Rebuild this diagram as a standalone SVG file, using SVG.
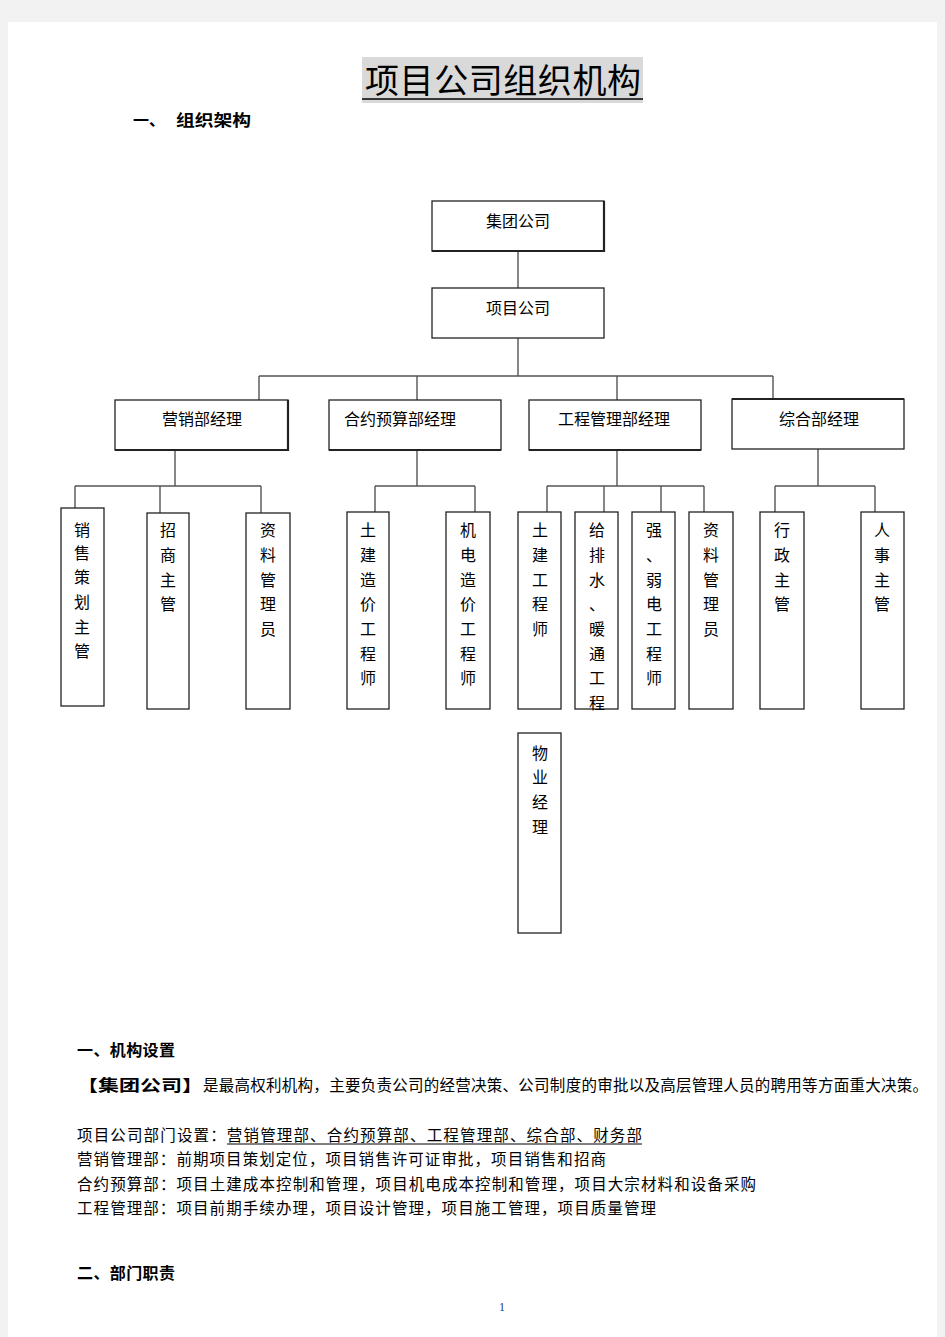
<svg xmlns="http://www.w3.org/2000/svg" width="945" height="1337" viewBox="0 0 945 1337">
<style>
.bx{fill:#fff;stroke:#222;stroke-width:1.3}
.sh{stroke:#222;stroke-width:2.2;fill:none}
.ln{stroke:#555;stroke-width:1.4;fill:none}
.t{font-family:"Noto Sans CJK SC","Noto Sans CJK TC",sans-serif;font-size:16px;fill:#000}
.v{font-family:"Noto Sans CJK SC",sans-serif;font-size:16px;fill:#000;text-anchor:middle}
.b{font-family:"Noto Sans CJK SC",sans-serif;font-size:16px;fill:#000;font-weight:bold}
.p{font-family:"Noto Sans CJK SC",sans-serif;font-size:15.5px;fill:#000}
</style>
<rect x="0" y="0" width="945" height="1337" fill="#f2f2f2"/>
<rect x="8" y="22" width="929" height="1315" fill="#fff"/>

<g id="title">
<rect x="362" y="57" width="281" height="46" fill="#d9d9d9"/>
<text x="365" y="93" font-family="Noto Sans CJK SC, sans-serif" font-size="34" textLength="276" fill="#000">项目公司组织机构</text>
<line x1="362" y1="99" x2="643" y2="99" stroke="#000" stroke-width="1.5"/>
<text x="133" y="126" class="b" font-size="18">一、</text>
<text x="176" y="126" class="b" font-size="18" textLength="75" lengthAdjust="spacingAndGlyphs">组织架构</text>
</g>

<g id="connectors">
<path class="ln" d="M518 251V288 M518 338V376 M259 376H773 M259 376V400 M417 376V400 M617 376V400 M773 376V400"/>
<path class="ln" d="M175 450V486 M75 486H261 M75 486V510 M160 486V513 M261 486V513"/>
<path class="ln" d="M417 450V486 M375 486H475 M375 486V512 M475 486V512"/>
<path class="ln" d="M617 450V486 M547 486H704 M547 486V512 M604 486V512 M661 486V512 M704 486V512"/>
<path class="ln" d="M818 449V486 M775 486H875 M775 486V512 M875 486V512"/>
</g>

<g id="n-jituan">
<rect class="bx" x="432" y="201" width="172" height="50"/>
<path class="sh" d="M604 201V251H432"/>
<text class="t" x="518" y="227" text-anchor="middle">集团公司</text>
</g>
<g id="n-xiangmu">
<rect class="bx" x="432" y="288" width="172" height="50"/>
<text class="t" x="518" y="314" text-anchor="middle">项目公司</text>
</g>

<g id="n-yingxiao">
<rect class="bx" x="115" y="400" width="173" height="50"/>
<path class="sh" d="M288 400V450H115"/>
<text class="t" x="202" y="425" text-anchor="middle">营销部经理</text>
</g>
<g id="n-heyue">
<rect class="bx" x="329" y="400" width="172" height="50"/>
<path class="sh" d="M329 450H501"/>
<text class="t" x="344" y="425">合约预算部经理</text>
</g>
<g id="n-gongcheng">
<rect class="bx" x="529" y="400" width="172" height="50"/>
<path class="sh" d="M529 450H701"/>
<text class="t" x="558" y="425">工程管理部经理</text>
</g>
<g id="n-zonghe">
<rect class="bx" x="732" y="399" width="172" height="50"/>
<path class="sh" d="M732 399H904"/>
<text class="t" x="779" y="425">综合部经理</text>
</g>

<g id="n-xiaoshou">
<rect class="bx" x="61" y="508" width="43" height="198"/>
<text class="v"><tspan x="82" y="536">销</tspan><tspan x="82" y="559">售</tspan><tspan x="82" y="583">策</tspan><tspan x="82" y="608">划</tspan><tspan x="82" y="633">主</tspan><tspan x="82" y="657">管</tspan></text>
</g>
<g id="n-zhaoshang">
<rect class="bx" x="147" y="513" width="42" height="196"/>
<text class="v"><tspan x="168" y="536">招</tspan><tspan x="168" y="561">商</tspan><tspan x="168" y="586">主</tspan><tspan x="168" y="610">管</tspan></text>
</g>
<g id="n-ziliao1">
<rect class="bx" x="246" y="513" width="44" height="196"/>
<text class="v"><tspan x="268" y="536">资</tspan><tspan x="268" y="561">料</tspan><tspan x="268" y="586">管</tspan><tspan x="268" y="610">理</tspan><tspan x="268" y="635">员</tspan></text>
</g>
<g id="n-tujianzaojia">
<rect class="bx" x="347" y="512" width="42" height="197"/>
<text class="v"><tspan x="368" y="536">土</tspan><tspan x="368" y="561">建</tspan><tspan x="368" y="586">造</tspan><tspan x="368" y="610">价</tspan><tspan x="368" y="635">工</tspan><tspan x="368" y="660">程</tspan><tspan x="368" y="684">师</tspan></text>
</g>
<g id="n-jidianzaojia">
<rect class="bx" x="446" y="512" width="44" height="197"/>
<text class="v"><tspan x="468" y="536">机</tspan><tspan x="468" y="561">电</tspan><tspan x="468" y="586">造</tspan><tspan x="468" y="610">价</tspan><tspan x="468" y="635">工</tspan><tspan x="468" y="660">程</tspan><tspan x="468" y="684">师</tspan></text>
</g>
<g id="n-tujian">
<rect class="bx" x="518" y="512" width="43" height="197"/>
<text class="v"><tspan x="540" y="536">土</tspan><tspan x="540" y="561">建</tspan><tspan x="540" y="586">工</tspan><tspan x="540" y="610">程</tspan><tspan x="540" y="635">师</tspan></text>
</g>
<g id="n-geipaishui">
<rect class="bx" x="575" y="512" width="43" height="197"/>
<text class="v"><tspan x="597" y="536">给</tspan><tspan x="597" y="561">排</tspan><tspan x="597" y="586">水</tspan><tspan x="597" y="610">、</tspan><tspan x="597" y="635">暖</tspan><tspan x="597" y="660">通</tspan><tspan x="597" y="684">工</tspan><tspan x="597" y="709">程</tspan></text>
</g>
<g id="n-qiangruodian">
<rect class="bx" x="632" y="512" width="43" height="197"/>
<text class="v"><tspan x="654" y="536">强</tspan><tspan x="654" y="561">、</tspan><tspan x="654" y="586">弱</tspan><tspan x="654" y="610">电</tspan><tspan x="654" y="635">工</tspan><tspan x="654" y="660">程</tspan><tspan x="654" y="684">师</tspan></text>
</g>
<g id="n-ziliao2">
<rect class="bx" x="689" y="512" width="44" height="197"/>
<text class="v"><tspan x="711" y="536">资</tspan><tspan x="711" y="561">料</tspan><tspan x="711" y="586">管</tspan><tspan x="711" y="610">理</tspan><tspan x="711" y="635">员</tspan></text>
</g>
<g id="n-xingzheng">
<rect class="bx" x="760" y="512" width="44" height="197"/>
<text class="v"><tspan x="782" y="536">行</tspan><tspan x="782" y="561">政</tspan><tspan x="782" y="586">主</tspan><tspan x="782" y="610">管</tspan></text>
</g>
<g id="n-renshi">
<rect class="bx" x="861" y="512" width="43" height="197"/>
<text class="v"><tspan x="882" y="536">人</tspan><tspan x="882" y="561">事</tspan><tspan x="882" y="586">主</tspan><tspan x="882" y="610">管</tspan></text>
</g>
<g id="n-wuye">
<rect class="bx" x="518" y="733" width="43" height="200"/>
<text class="v"><tspan x="540" y="759">物</tspan><tspan x="540" y="783">业</tspan><tspan x="540" y="808">经</tspan><tspan x="540" y="833">理</tspan></text>
</g>

<g id="body">
<text class="b" x="77" y="1056" textLength="98">一、机构设置</text>
<text class="b" x="77" y="1091" textLength="126" lengthAdjust="spacingAndGlyphs">【集团公司】</text>
<text class="p" x="203" y="1091" textLength="725">是最高权利机构，主要负责公司的经营决策、公司制度的审批以及高层管理人员的聘用等方面重大决策。</text>
<text class="p" x="77" y="1141" textLength="565">项目公司部门设置：营销管理部、合约预算部、工程管理部、综合部、财务部</text>
<line x1="227" y1="1144" x2="642" y2="1144" stroke="#000" stroke-width="1"/>
<text class="p" x="77" y="1165" textLength="529">营销管理部：前期项目策划定位，项目销售许可证审批，项目销售和招商</text>
<text class="p" x="77" y="1190" textLength="679">合约预算部：项目土建成本控制和管理，项目机电成本控制和管理，项目大宗材料和设备采购</text>
<text class="p" x="77" y="1214" textLength="579">工程管理部：项目前期手续办理，项目设计管理，项目施工管理，项目质量管理</text>
<text class="b" x="77" y="1279" textLength="98">二、部门职责</text>
<text x="502" y="1311" font-family="Liberation Serif, serif" font-size="12" fill="#223388" text-anchor="middle">1</text>
</g>
</svg>
